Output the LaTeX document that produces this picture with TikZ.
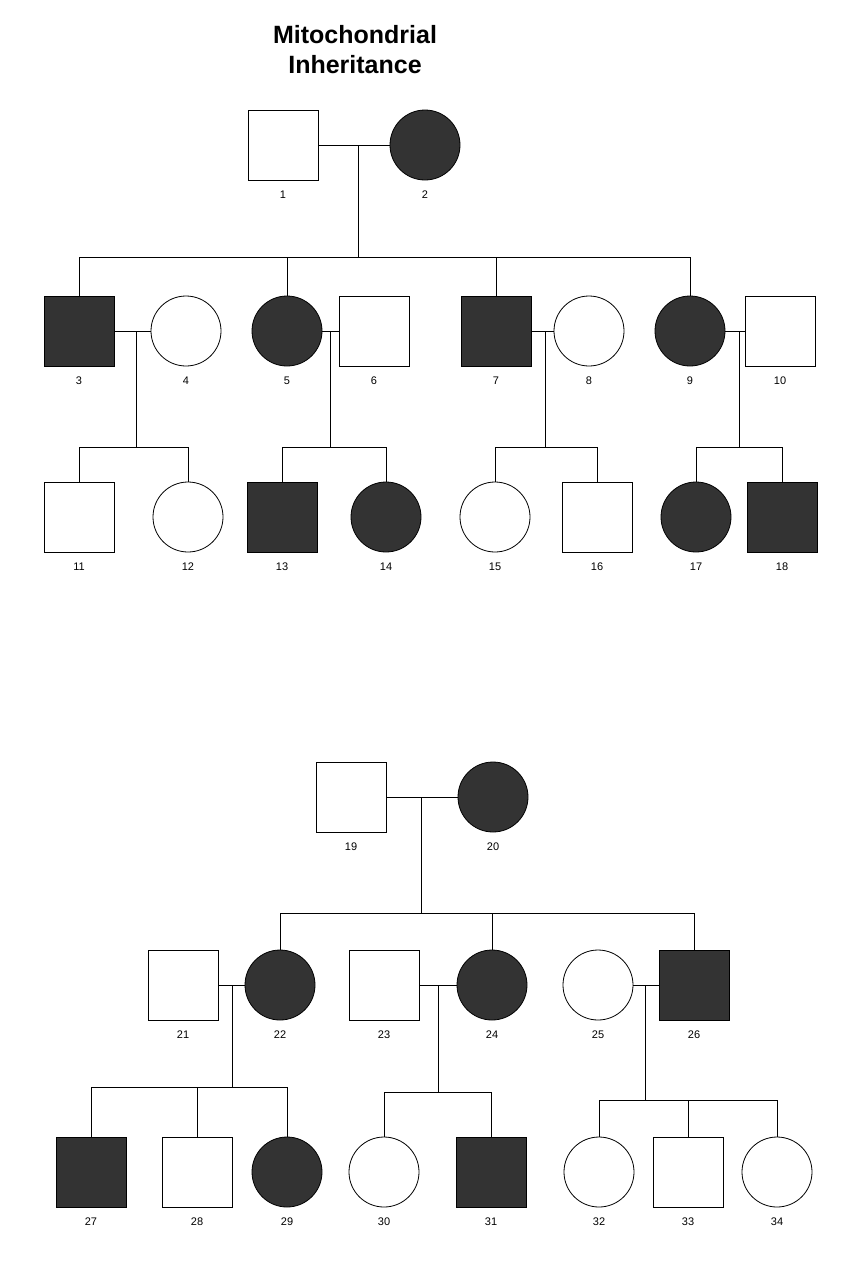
\documentclass[tikz,border=0pt]{standalone}
\usepackage{fontspec}
\setmainfont{Liberation Sans}
\begin{document}
\begin{tikzpicture}[x=1pt,y=-1pt,
  male/.style={draw,thick,minimum size=70pt,inner sep=0pt},
  female/.style={draw,thick,circle,minimum size=70pt,inner sep=0pt},
  aff/.style={fill=black!80},
  lab/.style={font=\fontsize{11}{12}\selectfont},
  ln/.style={thick}]
\useasboundingbox (0,0) rectangle (854,1262);
\node[font=\bfseries\fontsize{25}{30}\selectfont,align=center] (title) at (355,50) {Mitochondrial\\Inheritance};
\newcommand\pedM[4]{\node[male,#4] (n#1) at (#2,#3) {}; \node[lab] (l#1) at (#2,#3+50) {#1};}
\newcommand\pedF[4]{\node[female,#4] (n#1) at (#2,#3) {}; \node[lab] (l#1) at (#2,#3+50) {#1};}
% top
\pedM{1}{283}{145}{} \pedF{2}{425}{145}{aff}
\pedM{3}{79}{331}{aff} \pedF{4}{186}{331}{} \pedF{5}{287}{331}{aff} \pedM{6}{374}{331}{}
\pedM{7}{496}{331}{aff} \pedF{8}{589}{331}{} \pedF{9}{690}{331}{aff} \pedM{10}{780}{331}{}
\pedM{11}{79}{517}{} \pedF{12}{188}{517}{} \pedM{13}{282}{517}{aff} \pedF{14}{386}{517}{aff}
\pedF{15}{495}{517}{} \pedM{16}{597}{517}{} \pedF{17}{696}{517}{aff} \pedM{18}{782}{517}{aff}
% bottom
\pedM{19}{351}{797}{} \pedF{20}{493}{797}{aff}
\pedM{21}{183}{985}{} \pedF{22}{280}{985}{aff} \pedM{23}{384}{985}{} \pedF{24}{492}{985}{aff}
\pedF{25}{598}{985}{} \pedM{26}{694}{985}{aff}
\pedM{27}{91}{1172}{aff} \pedM{28}{197}{1172}{} \pedF{29}{287}{1172}{aff} \pedF{30}{384}{1172}{}
\pedM{31}{491}{1172}{aff} \pedF{32}{599}{1172}{} \pedM{33}{688}{1172}{} \pedF{34}{777}{1172}{}
\newcommand\pedfam[5]{%
  \draw[ln] (n#1.east) -- (n#2.west);
  \coordinate (m#1) at (#3,0);
  \draw[ln] (m#1 |- n#1.east) -- (m#1 |- 0,#4);
  \foreach \c in {#5} {\draw[ln] (n\c.north) -- (n\c.north |- 0,#4);}
}
\pedfam{1}{2}{358}{257}{3,5,7,9}
\draw[ln] (n3.north |- 0,257) -- (n9.north |- 0,257);
\pedfam{3}{4}{136}{447}{11,12}
\draw[ln] (n11.north |- 0,447) -- (n12.north |- 0,447);
\pedfam{5}{6}{330}{447}{13,14}
\draw[ln] (n13.north |- 0,447) -- (n14.north |- 0,447);
\pedfam{7}{8}{545}{447}{15,16}
\draw[ln] (n15.north |- 0,447) -- (n16.north |- 0,447);
\pedfam{9}{10}{739}{447}{17,18}
\draw[ln] (n17.north |- 0,447) -- (n18.north |- 0,447);
\pedfam{19}{20}{421}{913}{22,24,26}
\draw[ln] (n22.north |- 0,913) -- (n26.north |- 0,913);
\pedfam{21}{22}{232}{1087}{27,28,29}
\draw[ln] (n27.north |- 0,1087) -- (n29.north |- 0,1087);
\pedfam{23}{24}{438}{1092}{30,31}
\draw[ln] (n30.north |- 0,1092) -- (n31.north |- 0,1092);
\pedfam{25}{26}{645}{1100}{32,33,34}
\draw[ln] (n32.north |- 0,1100) -- (n34.north |- 0,1100);
\end{tikzpicture}
\end{document}
